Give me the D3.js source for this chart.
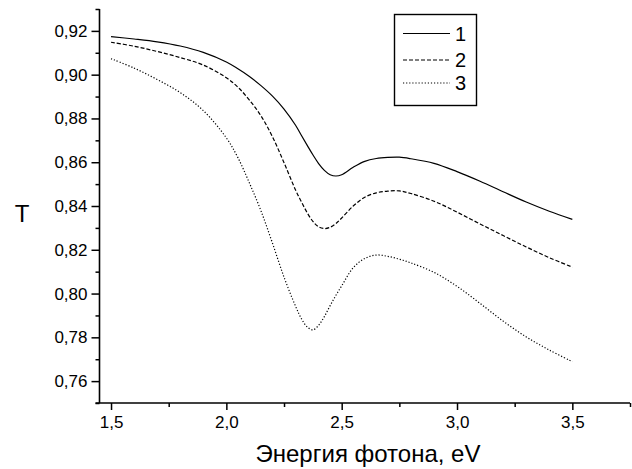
<!DOCTYPE html>
<html>
<head>
<meta charset="utf-8">
<script src="https://cdn.jsdelivr.net/npm/d3@7"></script>
<style>
  html, body { margin: 0; padding: 0; background: #fff; }
  svg { display: block; font-family: "Liberation Sans", Arial, sans-serif; }
</style>
</head>
<body>
<svg id="chart" width="632" height="469"></svg>
<script>
// Photon energy grid, eV (denser around the absorption dip)
const energy = [1.5, 1.6, 1.7, 1.8, 1.9, 2.0, 2.05, 2.1, 2.15, 2.2, 2.25, 2.3, 2.325, 2.35, 2.375,
  2.4, 2.425, 2.45, 2.475, 2.5, 2.55, 2.6, 2.65, 2.7, 2.75, 2.8, 2.9, 3.0, 3.1, 3.2, 3.3, 3.4, 3.5];

// Transmittance T for samples 1, 2, 3
const series1 = [0.9174, 0.9163, 0.9150, 0.9131, 0.9102, 0.9058, 0.9027, 0.8992, 0.8950, 0.8902, 0.8843, 0.8769, 0.8723, 0.8678, 0.8634,
  0.8594, 0.8563, 0.8543, 0.8537, 0.8543, 0.8577, 0.8604, 0.8617, 0.8622, 0.8623, 0.8616, 0.8595, 0.8557, 0.8513, 0.8465, 0.8418, 0.8376, 0.8339];
const series2 = [0.9148, 0.9130, 0.9106, 0.9078, 0.9044, 0.8986, 0.8943, 0.8884, 0.8812, 0.8716, 0.8598, 0.8473, 0.8420, 0.8370, 0.8330,
  0.8305, 0.8297, 0.8303, 0.8320, 0.8345, 0.8400, 0.8440, 0.8460, 0.8468, 0.8469, 0.8457, 0.8422, 0.8372, 0.8318, 0.8265, 0.8213, 0.8164, 0.8121];
const series3 = [0.9073, 0.9030, 0.8978, 0.8918, 0.8836, 0.8711, 0.8621, 0.8505, 0.8378, 0.8230, 0.8075, 0.7942, 0.7886, 0.7848, 0.7834,
  0.7855, 0.7895, 0.7945, 0.7992, 0.8035, 0.8118, 0.8160, 0.8176, 0.8170, 0.8157, 0.8140, 0.8097, 0.8033, 0.7955, 0.7874, 0.7802, 0.7742, 0.7689];

const seriesNames = ["1", "2", "3"];
const xTicks = [1.5, 2.0, 2.5, 3.0, 3.5];
const xMinorTicks = [1.75, 2.25, 2.75, 3.25, 3.75];
const yTicks = [0.76, 0.78, 0.80, 0.82, 0.84, 0.86, 0.88, 0.90, 0.92];
const yMinorTicks = [0.75, 0.77, 0.79, 0.81, 0.83, 0.85, 0.87, 0.89, 0.91, 0.93];
const xLabel = "Энергия фотона, eV";
const yLabel = "T";

const dashes = [null, "4,2", "1.2,1.9"];

const svg = d3.select("#chart");
const mLeft = 99.5, mRight = 630, mTop = 9, mBottom = 403;

const x = d3.scaleLinear().domain([1.45, 3.75]).range([mLeft, mRight]);
const y = d3.scaleLinear().domain([0.75, 0.93]).range([mBottom, mTop]);

const comma = v => v.toFixed(v < 1 && v > 0.5 ? 2 : 1).replace(".", ",");
const font = "Liberation Sans, Arial, sans-serif";

// X axis: minor then major ticks
const gx = svg.append("g").attr("transform", `translate(0,${mBottom})`);
gx.append("g").call(d3.axisBottom(x).tickValues(xMinorTicks).tickSize(4).tickFormat(""))
  .call(g => g.select(".domain").remove());
gx.append("g").call(d3.axisBottom(x).tickValues(xTicks).tickSize(7).tickPadding(6).tickFormat(comma))
  .call(g => g.select(".domain").attr("d", `M${mLeft - 4},0H${mRight}`));
gx.selectAll("line").attr("stroke", "#000").attr("stroke-width", 1.5);
gx.selectAll(".domain").attr("stroke", "#000").attr("stroke-width", 1.6);
gx.selectAll("text").attr("font-size", 17).attr("fill", "#000").attr("font-family", font);

// Y axis: minor then major ticks
const gy = svg.append("g").attr("transform", `translate(${mLeft},0)`);
gy.append("g").call(d3.axisLeft(y).tickValues(yMinorTicks).tickSize(4).tickFormat(""))
  .call(g => g.select(".domain").remove());
gy.append("g").call(d3.axisLeft(y).tickValues(yTicks).tickSize(8).tickPadding(4).tickFormat(comma))
  .call(g => g.select(".domain").attr("d", `M0,${mTop}V${mBottom}`));
gy.selectAll("line").attr("stroke", "#000").attr("stroke-width", 1.5);
gy.selectAll(".domain").attr("stroke", "#000").attr("stroke-width", 1.6);
gy.selectAll("text").attr("font-size", 17).attr("fill", "#000").attr("font-family", font);

// Axis titles
svg.append("text").attr("x", 368).attr("y", 462).attr("text-anchor", "middle")
  .attr("font-size", 24).text(xLabel);
svg.append("text").attr("x", 22).attr("y", 222).attr("text-anchor", "middle")
  .attr("font-size", 24).text(yLabel);

// Curves
const line = d3.line().curve(d3.curveCatmullRom.alpha(0.5))
  .x((d, i) => x(energy[i])).y(d => y(d));
[series1, series2, series3].forEach((s, k) => {
  svg.append("path").attr("d", line(s)).attr("fill", "none")
    .attr("stroke", "#000").attr("stroke-width", 1.2)
    .attr("stroke-dasharray", dashes[k]);
});

// Legend
const lg = svg.append("g");
lg.append("rect").attr("x", 394.5).attr("y", 14.5).attr("width", 82).attr("height", 91)
  .attr("fill", "#fff").attr("stroke", "#000").attr("stroke-width", 1.4);
const rowY = [33.5, 60, 83];
seriesNames.forEach((n, k) => {
  lg.append("line").attr("x1", 403).attr("x2", 450).attr("y1", rowY[k]).attr("y2", rowY[k])
    .attr("stroke", "#000").attr("stroke-width", 1.2).attr("stroke-dasharray", dashes[k]);
  lg.append("text").attr("x", 455).attr("y", rowY[k] + 7).attr("font-size", 20).text(n);
});
</script>
</body>
</html>
